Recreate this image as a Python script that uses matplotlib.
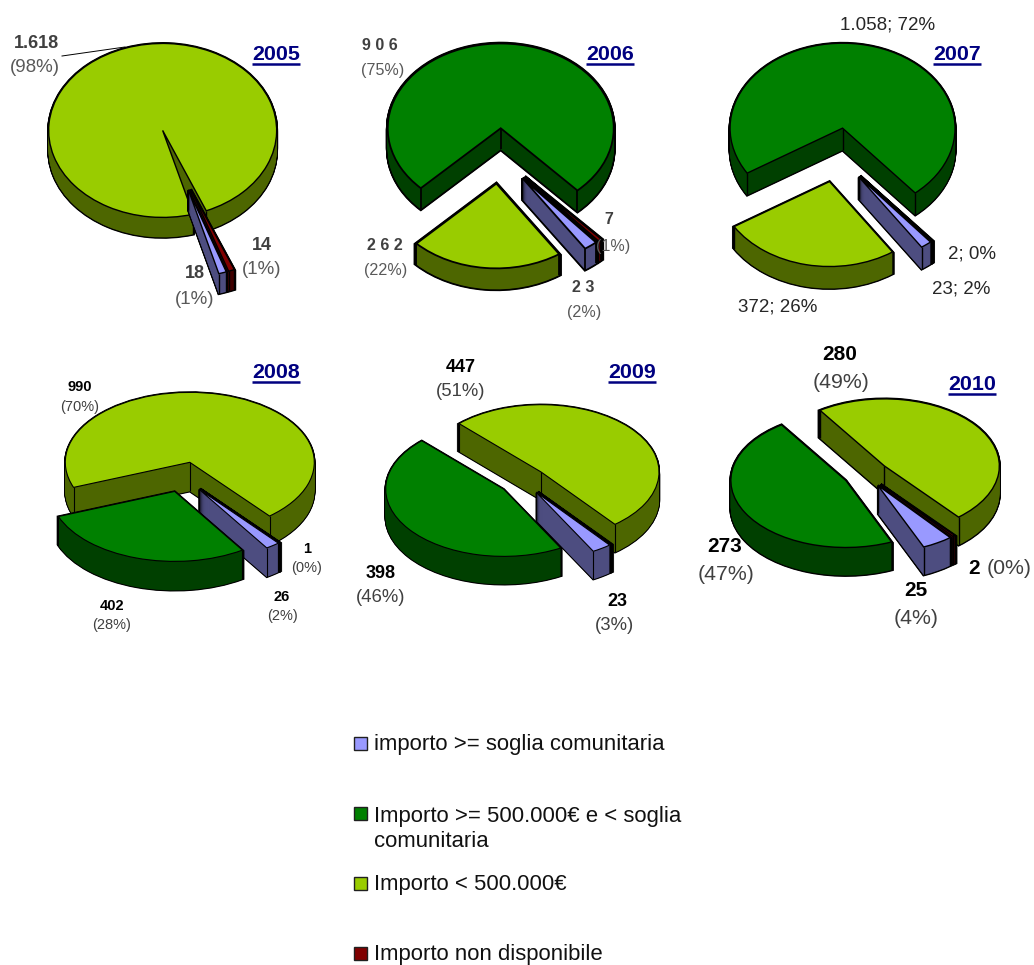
import math
import matplotlib
matplotlib.use('Agg')
import matplotlib.pyplot as plt
from matplotlib.patches import Rectangle

plt.rcParams['font.family'] = ['Liberation Sans', 'DejaVu Sans']

# data
anni = ['2005', '2006', '2007', '2008', '2009', '2010']
sopra_soglia = [18, 23, 23, 26, 23, 25]
medio = [0, 906, 1058, 402, 398, 273]
sotto_500k = [1618, 262, 372, 990, 447, 280]
non_disp = [14, 7, 2, 1, 1, 2]

legend_labels = ['importo >= soglia comunitaria',
                 'Importo >= 500.000€ e < soglia\ncomunitaria',
                 'Importo < 500.000€',
                 'Importo non disponibile']

# colours: top face, side face
BLU = ('#9999FF', '#4D4D80')
VERDE = ('#008000', '#004000')
CHIARO = ('#99CC00', '#4D6600')
ROSSO = ('#800000', '#400000')
legend_colors = [BLU[0], VERDE[0], CHIARO[0], ROSSO[0]]

W, H = 1034, 965

# pie layout in pixels: centre x, centre y, radius, squash, depth, explode, start angle, line width
layout = {
    '2005': (176, 160, 114, 0.763, 20, 41, 292.5, 1.0),
    '2006': (500, 156, 113, 0.75, 21, 37, 225, 1.3),
    '2007': (837, 155, 112.5, 0.755, 22, 36, 212, 1.0),
    '2008': (183, 477, 124.5, 0.562, 29, 27, 201, 0.8),
    '2009': (523, 481, 118, 0.57, 28, 24, 134, 0.8),
    '2010': (866, 474, 115, 0.583, 28, 23, 124, 1.0),
}


def slices_for(i):
    blu = (sopra_soglia[i], BLU)
    ver = (medio[i], VERDE)
    chi = (sotto_500k[i], CHIARO)
    ros = (non_disp[i], ROSSO)
    # the first three years run the other way round
    order = [chi, blu, ros, ver] if i < 3 else [ver, blu, ros, chi]
    return [s for s in order if s[0] > 0]


def draw_pie(fig, anno, i):
    cx, cy, r, sq, depth, expl, start, lw = layout[anno]
    parts = slices_for(i)
    vals = [p[0] for p in parts]
    tops = [p[1][0] for p in parts]
    sides = [p[1][1] for p in parts]
    ax = fig.add_axes([0, 0, 1, 1])
    base_y = (H - cy) / sq
    kw = dict(explode=[expl] * len(vals), radius=r, startangle=start)

    # back slices first
    tot = sum(vals)
    ang = start
    rank = []
    for v in vals:
        mid = ang + v / tot * 180
        rank.append(math.sin(math.radians(mid)))
        ang += v / tot * 360
    order = sorted(range(len(vals)), key=lambda k: -rank[k])
    z = {k: n * 10 + 1 for n, k in enumerate(order)}

    steps = int(depth * 2)
    for s in range(steps + 1):
        yy = base_y - (steps - s) * (depth / steps) / sq
        # black outline pass
        outl, _ = ax.pie(vals, colors=sides, center=(cx, yy),
                         wedgeprops=dict(edgecolor='black', linewidth=lw * 2), **kw)
        for k, w in enumerate(outl):
            w.set_zorder(z[k])
        fill, _ = ax.pie(vals, colors=sides, center=(cx, yy),
                         wedgeprops=dict(linewidth=0), **kw)
        for k, w in enumerate(fill):
            w.set_zorder(z[k] + 1)

    top, _ = ax.pie(vals, colors=tops, center=(cx, base_y),
                    wedgeprops=dict(edgecolor='black', linewidth=lw), **kw)
    for k, w in enumerate(top):
        w.set_zorder(z[k] + 3)
        px, py = w.center
        xs = [px, px + r * math.cos(math.radians(w.theta1)), px + r * math.cos(math.radians(w.theta2))]
        ys = [py, py + r * math.sin(math.radians(w.theta1)), py + r * math.sin(math.radians(w.theta2))]
        for a, b in zip(xs, ys):
            ax.plot([a, a], [b, b - depth / sq], color='black', lw=lw, zorder=z[k] + 2,
                    solid_capstyle='butt')

    ax.set_aspect('auto')
    ax.set_xlim(0, W)
    ax.set_ylim(0, H / sq)
    ax.axis('off')
    ax.patch.set_visible(False)


fig = plt.figure(figsize=(W / 100, H / 100), dpi=100, facecolor='white')
for i, anno in enumerate(anni):
    draw_pie(fig, anno, i)

# overlay for texts, in pixels
over = fig.add_axes([0, 0, 1, 1], zorder=50)
over.set_xlim(0, W)
over.set_ylim(H, 0)
over.axis('off')
over.patch.set_visible(False)

GRIGIO = '#404040'
GRIGIO2 = '#595959'
DY = 2  # va='center' sits a bit high


def num(x, y, s, size, color='black'):
    over.text(x, y + DY, s, fontsize=size, fontweight='bold', color=color, ha='center', va='center')


def pct(x, y, s, size, color=GRIGIO2):
    over.text(x, y + DY, s, fontsize=size, color=color, ha='center', va='center')


# 2005
num(36, 42, '1.618', 13, GRIGIO)
pct(35, 66, '(98%)', 13.5)
over.plot([62, 125], [56, 47], color='black', lw=0.7)
num(262, 244, '14', 13, GRIGIO)
pct(262, 268, '(1%)', 13.5)
num(195, 272, '18', 13, GRIGIO)
pct(195, 297, '(1%)', 13.5)
# 2006
num(380, 43, '9 0 6', 11.5, GRIGIO)
pct(383, 69, '(75%)', 11.6)
num(385, 243, '2 6 2', 11.5, GRIGIO)
pct(386, 269, '(22%)', 11.6)
num(583, 285, '2 3', 11.5, GRIGIO)
pct(584, 311, '(2%)', 11.6)
num(609, 218, '7', 11.5, GRIGIO)
pct(613, 244, '(1%)', 11.6)
# 2007
pct(888, 23, '1.058; 72%', 13.5, '#262626')
pct(972, 252, '2; 0%', 13.5, '#262626')
pct(961, 287, '23; 2%', 13.5, '#262626')
pct(778, 305, '372; 26%', 13.5, '#262626')
# 2008
num(80, 385, '990', 10.5)
pct(80, 405, '(70%)', 10.5, GRIGIO)
num(112, 604, '402', 10.5)
pct(112, 623, '(28%)', 10.5, GRIGIO)
num(282, 595, '26', 10.5)
pct(282, 614, '(2%)', 10.5, GRIGIO)
num(307, 547, '1', 10.5)
pct(307, 566, '(0%)', 10.5, GRIGIO)
# 2009
num(461, 365, '447', 13)
pct(461, 390, '(51%)', 13.3, GRIGIO)
num(381, 571, '398', 13)
pct(381, 596, '(46%)', 13.3, GRIGIO)
num(617, 599, '23', 13)
pct(615, 624, '(3%)', 13.3, GRIGIO)
# 2010
num(840, 353, '280', 15)
pct(841, 381, '(49%)', 15.3, GRIGIO)
num(725, 545, '273', 15)
pct(726, 572, '(47%)', 15.3, GRIGIO)
num(916, 588, '25', 15)
pct(916, 616, '(4%)', 15.3, GRIGIO)
num(974, 567, '2', 15)
pct(1009, 567, '(0%)', 15.3, GRIGIO)

# year titles
title_pos = [(276, 53), (610, 53), (957, 53), (276, 371), (632, 371), (972, 383)]
for anno, (tx, ty) in zip(anni, title_pos):
    over.text(tx, ty + DY, anno, fontsize=15.4, fontweight='bold', color='#000080', ha='center', va='center')
    over.plot([tx - 24, tx + 24], [ty + 11, ty + 11], color='#000080', lw=1.8, solid_capstyle='butt')

# legend
legend_boxes = [737, 807, 877, 947]
legend_base = [750, 847, 890, 960]
for lab, col, by, ty in zip(legend_labels, legend_colors, legend_boxes, legend_base):
    over.add_patch(Rectangle((354, by), 13, 13, facecolor=col, edgecolor='#202020', lw=1))
    over.text(374, ty, lab, fontsize=15.9, color='#111111', ha='left', va='baseline', linespacing=1.24)

fig.savefig('out.png', dpi=100)
